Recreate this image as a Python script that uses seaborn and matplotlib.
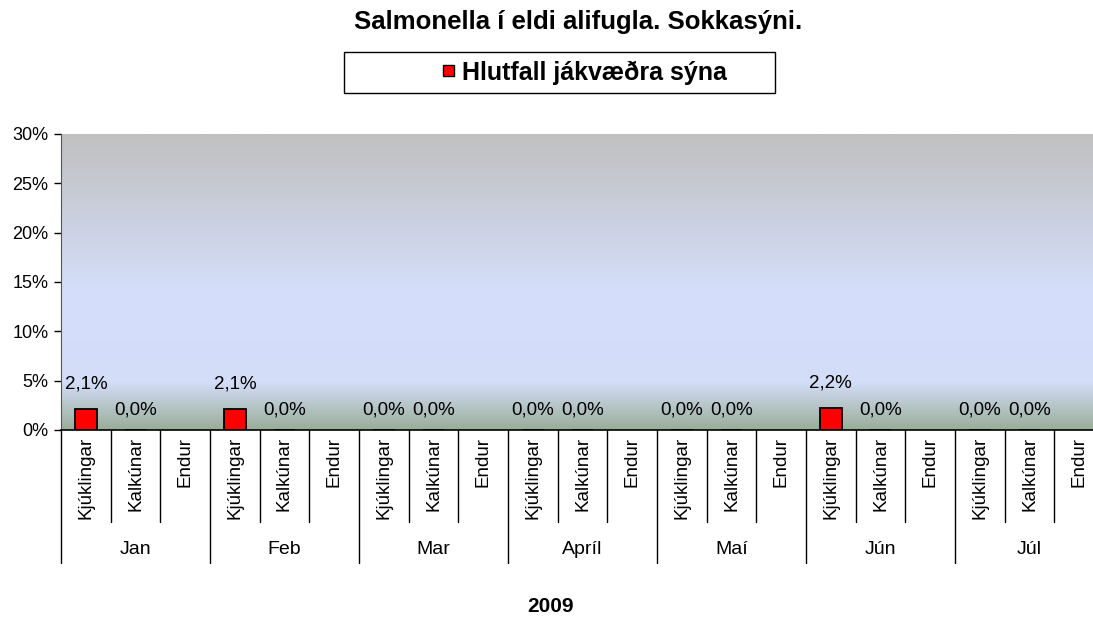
import numpy as np
import pandas as pd
import matplotlib
matplotlib.use("Agg")
import matplotlib.pyplot as plt
import matplotlib.transforms as mtransforms
from matplotlib.colors import LinearSegmentedColormap
from matplotlib.patches import Rectangle, Patch
import seaborn as sns

# data (percent positive samples)
months = ["Jan", "Feb", "Mar", "Apríl", "Maí", "Jún", "Júl"]
types = ["Kjúklingar", "Kalkúnar", "Endur"]
kjuklingar = [2.1, 2.1, 0.0, 0.0, 0.0, 2.2, 0.0]
kalkunar = [0.0, 0.0, 0.0, 0.0, 0.0, 0.0, 0.0]
endur = [None, None, None, None, None, None, None]
yticks = [0, 5, 10, 15, 20, 25, 30]

rows = []
for i, m in enumerate(months):
    for t, vals in zip(types, [kjuklingar, kalkunar, endur]):
        rows.append({"key": m + "|" + t, "month": m, "type": t, "value": vals[i]})
df = pd.DataFrame(rows)
order = list(df["key"])
df = df.dropna(subset=["value"])

sns.set_style("white")
plt.rcParams["font.family"] = ["Liberation Sans", "DejaVu Sans"]
plt.rcParams["text.color"] = "black"
plt.rcParams["ytick.color"] = "black"
plt.rcParams["xtick.color"] = "black"

fig = plt.figure(figsize=(10.93, 6.21), dpi=100)
ax = fig.add_axes([61 / 1093, 1 - 430 / 621, 1043 / 1093, 296 / 621])

# gradient plot area: gray top -> light blue -> green-gray bottom
cmap = LinearSegmentedColormap.from_list(
    "bg", [(0.0, "#9aad98"), (0.16, "#d3ddf8"), (0.45, "#d5dffc"), (1.0, "#c0c0c0")])
grad = np.linspace(0, 1, 256).reshape(-1, 1)
ax.imshow(grad, cmap=cmap, aspect="auto", origin="lower", extent=[0, 1, 0, 1],
          transform=ax.transAxes, zorder=0)

sns.barplot(data=df, x="key", y="value", order=order, color="#ff0000", saturation=1,
            edgecolor="black", linewidth=1.3, width=0.43, ax=ax, zorder=2)

ax.set_xlim(-0.5, len(order) - 0.5)
ax.set_ylim(0, 30)
ax.set_yticks(yticks)
ax.set_yticklabels([f"{v}%" for v in yticks], fontsize=13)
ax.tick_params(axis="y", direction="out", length=5, width=1, color="black", pad=4, left=True)
ax.tick_params(axis="x", length=0, labelbottom=False)
ax.set_xlabel("")
ax.set_ylabel("")
for s in ["top", "right"]:
    ax.spines[s].set_visible(False)
ax.spines["left"].set_color("#555555")
ax.spines["bottom"].set_color("black")
ax.spines["bottom"].set_linewidth(1.2)

# value labels
for p in ax.patches:
    h = p.get_height()
    if np.isnan(h):
        continue
    ax.annotate(f"{h:.1f}%".replace(".", ","), (p.get_x() + p.get_width() / 2, h),
                xytext=(0, 12 if h > 0 else 8), textcoords="offset points",
                ha="center", va="bottom", fontsize=13.5)

# multi-level category axis
trans = mtransforms.blended_transform_factory(ax.transData, ax.transAxes)
for i, key in enumerate(order):
    m, t = key.split("|")
    ax.text(i, -0.022, t, rotation=90, ha="center", va="top", fontsize=13.5,
            transform=trans, clip_on=False)
for i in range(len(order) + 1):
    low = -0.449 if i % 3 == 0 else -0.311
    ax.plot([i - 0.5, i - 0.5], [0, low], color="black", lw=1, transform=trans, clip_on=False)
for g, m in enumerate(months):
    ax.text(3 * g + 1, -0.405, m, ha="center", va="center", fontsize=14,
            transform=trans, clip_on=False)

fig.text(551 / 1093, 1 - 607 / 621, "2009", ha="center", va="center",
         fontsize=15, fontweight="bold")
fig.text(578 / 1093, 1 - 22 / 621, "Salmonella í eldi alifugla. Sokkasýni.",
         ha="center", va="center", fontsize=18.5, fontweight="bold")

# legend with a wide box
fig.patches.append(Rectangle((344 / 1093, 1 - 93 / 621), 431 / 1093, 41 / 621,
                             transform=fig.transFigure, fill=False,
                             edgecolor="black", lw=1))
handle = Patch(facecolor="#ff0000", edgecolor="black", label="Hlutfall jákvæðra sýna")
fig.legend(handles=[handle], loc="center left", bbox_to_anchor=(425 / 1093, 1 - 72.5 / 621),
           frameon=False, prop={"weight": "bold", "size": 18},
           handlelength=0.45, handleheight=0.3, handletextpad=0.35, borderpad=0.2)

fig.savefig("out.png", dpi=100)
